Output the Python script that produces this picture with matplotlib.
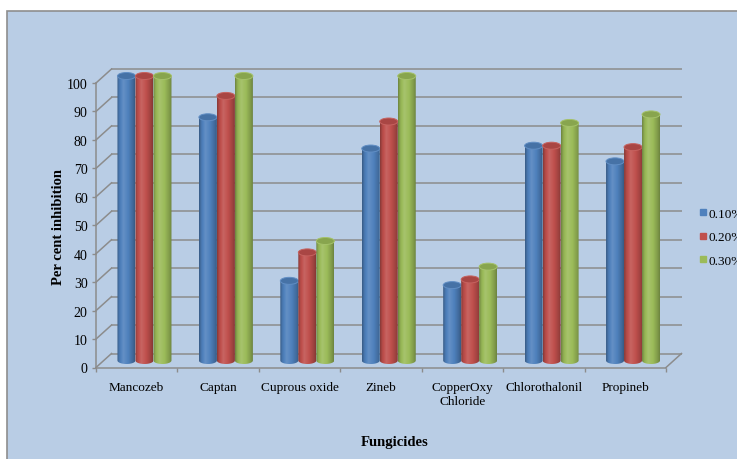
import numpy as np
import matplotlib
matplotlib.use("Agg")
import matplotlib.pyplot as plt
from matplotlib.patches import Polygon, Ellipse, Rectangle
from matplotlib.lines import Line2D
from matplotlib.colors import to_rgb

plt.rcParams["font.family"] = ["Liberation Serif", "DejaVu Serif"]

# ---- data -------------------------------------------------------------
fungicides = ["Mancozeb", "Captan", "Cuprous oxide", "Zineb",
              "CopperOxy\nChloride", "Chlorothalonil", "Propineb"]
conc_010 = [100, 85.5, 28, 74.5, 26.5, 75.5, 70]
conc_020 = [100, 93, 38, 84, 28.5, 75.5, 75]
conc_030 = [100, 100, 42, 100, 33, 83.5, 86.5]
series_labels = ["0.10%", "0.20%", "0.30%"]
y_ticks = list(range(0, 101, 10))

series = [conc_010, conc_020, conc_030]
colors = ["#4F81BD", "#C0504D", "#9BBB59"]
grid_col = "#8C8C8C"

W, H = 737, 460
fig = plt.figure(figsize=(W / 100, H / 100), dpi=100)
fig.patch.set_facecolor("white")

# chart area background
fig.patches.append(Rectangle((7 / W, -0.1), 1.2, (H - 12) / H + 0.1,
                             transform=fig.transFigure, facecolor="#B9CDE5",
                             edgecolor="#8E8E8E", lw=1.2, zorder=-5))

# front plane of the 3-D plot box
ax_l, ax_r, ax_b, ax_t = 96, 666, 368.5, 84
ax = fig.add_axes([ax_l / W, (H - ax_b) / H, (ax_r - ax_l) / W, (ax_b - ax_t) / H])
ax.set_facecolor("none")
n = len(fungicides)
px_x = (ax_r - ax_l) / n          # pixels per category
px_y = (ax_b - ax_t) / 100.0      # pixels per percent
DX = 15.5 / px_x                  # depth offset (data units)
DY = 14.0 / px_y

# back wall and side wall grid
for v in y_ticks:
    ax.plot([DX, n + DX], [v + DY, v + DY], color=grid_col, lw=1.1,
            clip_on=False, zorder=1, solid_capstyle="butt")
    ax.plot([0, DX], [v, v + DY], color=grid_col, lw=1.1,
            clip_on=False, zorder=1)
ax.plot([n, n + DX], [0, DY], color=grid_col, lw=1.1, clip_on=False, zorder=1)

# cylinders
bw = 18.0 / px_x
b = 3.5 / px_y
tt = np.linspace(0, 1, 64)
anch_t = [0.0, 0.12, 0.35, 0.62, 0.88, 1.0]
anch_f = [0.70, 0.92, 1.12, 1.0, 0.82, 0.70]
fac = np.interp(tt, anch_t, anch_f)


def shade(rgb, f):
    rgb = np.asarray(rgb)
    if f >= 1:
        return rgb + (1 - rgb) * (f - 1)
    return rgb * f


arc = np.linspace(np.pi, 2 * np.pi, 40)
for j, vals in enumerate(series):
    base = to_rgb(colors[j])
    grad = np.array([[shade(base, f) for f in fac]])
    for i, v in enumerate(vals):
        xc = i + 0.5 + DX / 2 + (j - 1) * bw
        x0, x1 = xc - bw / 2, xc + bw / 2
        y0 = DY / 2
        y1 = y0 + v
        pts = [(x0, y1), (x0, y0)]
        pts += [(xc + bw / 2 * np.cos(a), y0 + b * np.sin(a)) for a in arc]
        pts += [(x1, y1)]
        clip = Polygon(pts, closed=True, transform=ax.transData)
        im = ax.imshow(grad, extent=[x0, x1, y0 - b, y1], aspect="auto",
                       interpolation="bilinear", zorder=3 + j)
        im.set_clip_path(clip)
        im.set_clip_box(fig.bbox)
        top = Ellipse((xc, y1), bw, 2 * b, facecolor=shade(base, 0.88),
                      edgecolor=shade(base, 1.1), lw=0.7,
                      clip_on=False, zorder=3 + j)
        ax.add_patch(top)

ax.set_aspect("auto")
ax.set_xlim(0, n)
ax.set_ylim(0, 100)

# axes, ticks and labels
for s in ("top", "right"):
    ax.spines[s].set_visible(False)
for s in ("left", "bottom"):
    ax.spines[s].set_color(grid_col)
    ax.spines[s].set_linewidth(1.1)
    ax.spines[s].set_zorder(1)

ax.set_yticks(y_ticks)
ax.set_yticklabels([str(v) for v in y_ticks], fontsize=10)
ax.tick_params(axis="y", length=3, width=1.0, color=grid_col, pad=3)

ax.set_xticks(np.arange(n + 1))
ax.set_xticklabels([""] * (n + 1))
ax.set_xticks(np.arange(n) + 0.5, minor=True)
ax.set_xticklabels(fungicides, minor=True, fontsize=9.5, linespacing=1.15)
ax.tick_params(axis="x", which="major", length=3, width=1.0, color=grid_col)
ax.tick_params(axis="x", which="minor", length=0, pad=10)

fig.text(58 / W, 1 - 227 / H, "Per cent inhibition", rotation=90,
         fontsize=10.5, fontweight="bold", ha="center", va="center")
fig.text(395 / W, 1 - 443 / H, "Fungicides", fontsize=10.5,
         fontweight="bold", ha="center", va="center")

handles = [Line2D([], [], marker="s", linestyle="none", markersize=5,
                  markerfacecolor=c, markeredgecolor=c) for c in colors]
fig.legend(handles, series_labels, loc="center left",
           bbox_to_anchor=(699 / W, 1 - 238 / H), frameon=False,
           handlelength=0.6, handletextpad=0.15, labelspacing=0.85,
           fontsize=9.5, borderaxespad=0, borderpad=0)

fig.savefig("out.png", dpi=100)
